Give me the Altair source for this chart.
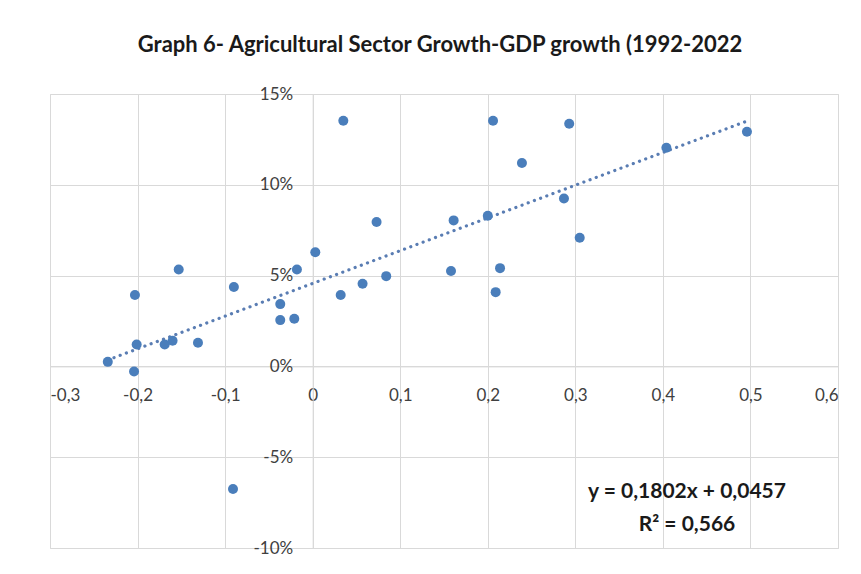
import altair as alt
import pandas as pd

title_text = "Graph 6- Agricultural Sector Growth-GDP growth (1992-2022"

# x: agricultural sector growth, y: GDP growth (fraction)
agri_growth = [0.035, 0.073, 0.003, -0.153, -0.018, 0.084, -0.090, 0.057,
               -0.203, 0.032, -0.037, -0.037, -0.021, -0.201, -0.169, -0.160,
               -0.131, -0.234, -0.204, -0.091, 0.206, 0.293, 0.239, 0.404,
               0.496, 0.287, 0.161, 0.200, 0.305, 0.158, 0.214, 0.209]
gdp_growth = [0.1353, 0.0795, 0.0629, 0.0534, 0.0534, 0.0497, 0.0437, 0.0455,
              0.0393, 0.0393, 0.0343, 0.0255, 0.0262, 0.0121, 0.0121, 0.0141,
              0.0130, 0.0025, -0.0028, -0.0675, 0.1353, 0.1336, 0.1120, 0.1204,
              0.1292, 0.0925, 0.0804, 0.0830, 0.0708, 0.0525, 0.0541, 0.0409]

slope = 0.1802
intercept = 0.0457
equation_text = "y = 0,1802x + 0,0457"
r2_text = "R² = 0,566"

x_ticks = [-0.3, -0.2, -0.1, 0.0, 0.1, 0.2, 0.3, 0.4, 0.5, 0.6]
y_ticks = [-0.10, -0.05, 0.0, 0.05, 0.10, 0.15]

W, H = 788, 454
PAD_L, PAD_T, PAD_R, PAD_B = 42, 86, 15, 18
x_dom = [x_ticks[0], x_ticks[-1]]
y_dom = [y_ticks[0], y_ticks[-1]]
x_axis_offset = -H * (0 - y_dom[0]) / (y_dom[1] - y_dom[0])
y_axis_offset = -W * (0 - x_dom[0]) / (x_dom[1] - x_dom[0])

df = pd.DataFrame({"agri": agri_growth, "gdp": gdp_growth})
xmin, xmax = min(agri_growth), max(agri_growth)
trend = pd.DataFrame({"agri": [xmin, xmax],
                      "gdp": [slope * xmin + intercept, slope * xmax + intercept]})

FONT = "Lato"
LABEL_COLOR = "#404040"
GRID = "#D9D9D9"

x_enc = alt.X("agri:Q", scale=alt.Scale(domain=x_dom, nice=False, zero=False),
              axis=alt.Axis(values=x_ticks, title=None, ticks=False,
                            offset=x_axis_offset, domainColor=GRID,
                            gridColor=GRID, labelFont=FONT, labelFontSize=17,
                            labelColor=LABEL_COLOR, labelPadding=21,
                            labelExpr="datum.value == 0 ? '0' : replace(toString(round(datum.value*10)/10), '.', ',')"))
y_enc = alt.Y("gdp:Q", scale=alt.Scale(domain=y_dom, nice=False, zero=False),
              axis=alt.Axis(values=y_ticks, title=None, ticks=False,
                            offset=y_axis_offset, domainColor=GRID,
                            gridColor=GRID, labelFont=FONT, labelFontSize=17,
                            labelColor=LABEL_COLOR, labelPadding=20,
                            labelExpr="toString(round(datum.value*100)) + '%'"))

points = alt.Chart(df).mark_point(filled=True, size=100, opacity=1,
                                  color="#4A7EBB").encode(x=x_enc, y=y_enc)

trend_line = alt.Chart(trend).mark_line(color="#5A7DB3", strokeWidth=3.2,
                                        strokeDash=[0.1, 6.5], strokeCap="round").encode(
    x="agri:Q", y="gdp:Q")

eq = alt.Chart(pd.DataFrame({"t": [equation_text]})).mark_text(
    font=FONT, fontSize=21, fontWeight="bold", color="#1a1a1a",
    align="center", baseline="middle").encode(
    x=alt.value(637), y=alt.value(398), text="t:N")
r2 = alt.Chart(pd.DataFrame({"t": [r2_text]})).mark_text(
    font=FONT, fontSize=21, fontWeight="bold", color="#1a1a1a",
    align="center", baseline="middle").encode(
    x=alt.value(637), y=alt.value(431), text="t:N")

chart = alt.layer(trend_line, points, eq, r2).properties(
    width=W, height=H,
    title=alt.Title(title_text, font=FONT, fontSize=22, fontWeight="bold",
                    color="#1a1a1a", anchor="middle", frame="group",
                    baseline="alphabetic", offset=11, dx=-4),
    autosize=alt.AutoSizeParams(type="none"),
    padding={"left": PAD_L, "top": PAD_T, "right": PAD_R, "bottom": PAD_B},
).configure_view(stroke=None).configure(background="white")

chart.save("out.html", embed_options={"renderer": "svg", "actions": False})
